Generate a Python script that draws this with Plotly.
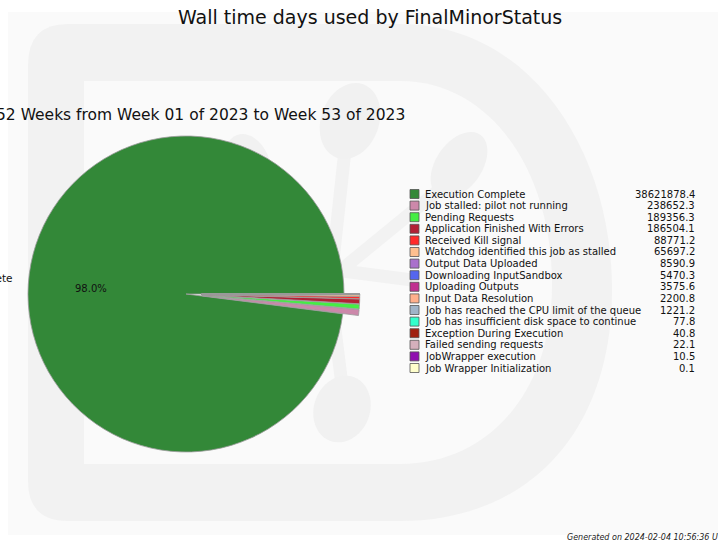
import numpy as np
import plotly.graph_objects as go

W, H = 718, 543

statuses = [
    "Execution Complete",
    "Job stalled: pilot not running",
    "Pending Requests",
    "Application Finished With Errors",
    "Received Kill signal",
    "Watchdog identified this job as stalled",
    "Output Data Uploaded",
    "Downloading InputSandbox",
    "Uploading Outputs",
    "Input Data Resolution",
    "Job has reached the CPU limit of the queue",
    "Job has insufficient disk space to continue",
    "Exception During Execution",
    "Failed sending requests",
    "JobWrapper execution",
    "Job Wrapper Initialization",
]
wall_days = [
    38621878.4, 238652.3, 189356.3, 186504.1, 88771.2, 65697.2, 8590.9,
    5470.3, 3575.6, 2200.8, 1221.2, 77.8, 40.8, 22.1, 10.5, 0.1,
]
colors = [
    "#338838", "#cc88aa", "#44ee44", "#b22035", "#ff2a2a", "#ffc090",
    "#aa70cc", "#5566ee", "#c03090", "#ffb08c", "#a0b4c8", "#33ffcc",
    "#a02010", "#d4b0bc", "#9010b0", "#ffffcc",
]

title = "Wall time days used by FinalMinorStatus"
subtitle = "52 Weeks from Week 01 of 2023 to Week 53 of 2023"
footer = "Generated on 2024-02-04 10:56:36 UTC"


def px(x):
    return x / W


def py(y):
    return 1 - y / H


def path(cmds, close=True):
    parts = []
    for c, pts in cmds:
        parts.append(c + " ".join(f"{px(x):.5f},{py(y):.5f}" for x, y in pts))
    return " ".join(parts) + (" Z" if close else "")


def ellipse_path(cx, cy, a, b, tilt_deg, n=48):
    t = np.linspace(0, 2 * np.pi, n, endpoint=False)
    th = np.radians(tilt_deg)
    xs = cx + a * np.cos(t) * np.cos(th) - b * np.sin(t) * np.sin(th)
    ys = cy + a * np.cos(t) * np.sin(th) + b * np.sin(t) * np.cos(th)
    pts = list(zip(xs, ys))
    return path([("M", [pts[0]])] + [("L", [p]) for p in pts[1:]])


# pie geometry (pixels)
cx, cy, r = 186, 294, 158
pull = 0.1
half = r * (1 + pull)

total = sum(wall_days)
frac0 = wall_days[0] / total
# first slice runs counterclockwise from 3 o'clock
start_rotation = 90 + 360 * (1 - frac0)

fig = go.Figure()
fig.add_trace(go.Pie(
    labels=statuses,
    values=wall_days,
    marker=dict(colors=colors, line=dict(color="#9a9a9a", width=0.8)),
    sort=False,
    direction="counterclockwise",
    rotation=start_rotation,
    pull=[0] + [pull] * (len(wall_days) - 1),
    textinfo="none",
    hoverinfo="label+value+percent",
    showlegend=False,
    domain=dict(x=[px(cx - half), px(cx + half)], y=[py(cy + half), py(cy - half)]),
))

shapes = []
band = "#f2f2f2"
# plot background area
shapes.append(dict(type="rect", xref="paper", yref="paper", x0=px(8), x1=1.0,
                   y0=py(535), y1=py(12), fillcolor="#fafafa", line_width=0, layer="below"))
# watermark logo: rounded "D" outline
outer = path([
    ("M", [(28, 65)]),
    ("Q", [(28, 24), (68, 24)]),
    ("L", [(400, 24)]),
    ("C", [(530, 24), (612, 150), (612, 290)]),
    ("C", [(612, 430), (530, 521), (400, 521)]),
    ("L", [(68, 521)]),
    ("Q", [(28, 521), (28, 481)]),
])
inner = path([
    ("M", [(84, 81)]),
    ("L", [(400, 81)]),
    ("C", [(490, 81), (552, 170), (552, 285)]),
    ("C", [(552, 390), (490, 464), (400, 464)]),
    ("L", [(84, 464)]),
])
shapes.append(dict(type="path", xref="paper", yref="paper", path=outer,
                   fillcolor=band, line_width=0, layer="below"))
shapes.append(dict(type="path", xref="paper", yref="paper", path=inner,
                   fillcolor="#fafafa", line_width=0, layer="below"))
# molecule-like nodes and links
for (x0, y0, x1, y1) in [(345, 150, 332, 270), (445, 185, 335, 275),
                         (335, 270, 412, 280), (330, 290, 342, 385),
                         (255, 180, 330, 275)]:
    shapes.append(dict(type="line", xref="paper", yref="paper",
                       x0=px(x0), y0=py(y0), x1=px(x1), y1=py(y1),
                       line=dict(color=band, width=13), layer="below"))
for (ex, ey, a, b, tilt) in [(350, 121, 29, 39, 20), (459, 165, 23, 37, 35),
                             (342, 409, 28, 34, 20), (248, 165, 22, 32, -20)]:
    shapes.append(dict(type="path", xref="paper", yref="paper",
                       path=ellipse_path(ex, ey, a, b, tilt),
                       fillcolor="#f1f1f1", line_width=0, layer="below"))

annotations = []
font = "DejaVu Sans"
annotations.append(dict(text=title, x=px(370), y=py(17), xref="paper", yref="paper",
                        showarrow=False, xanchor="center", yanchor="middle",
                        font=dict(family=font, size=19, color="#111111")))
annotations.append(dict(text=subtitle, x=px(200), y=py(115), xref="paper", yref="paper",
                        showarrow=False, xanchor="center", yanchor="middle",
                        font=dict(family=font, size=15.5, color="#111111")))
annotations.append(dict(text=f"<i>{footer}</i>", x=px(565), y=py(537), xref="paper", yref="paper",
                        showarrow=False, xanchor="left", yanchor="middle",
                        font=dict(family=font, size=8, color="#222222")))

# percentage and outside label of the dominant slice
mid = np.radians(360 * frac0 / 2)
annotations.append(dict(text=f"{100 * frac0:.1f}%",
                        x=px(cx + 0.6 * r * np.cos(mid)), y=py(cy - 0.6 * r * np.sin(mid)),
                        xref="paper", yref="paper", showarrow=False,
                        xanchor="center", yanchor="middle",
                        font=dict(family=font, size=10, color="#111111")))
annotations.append(dict(text=statuses[0],
                        x=px(14), y=py(cy - 1.07 * r * np.sin(mid) - 5),
                        xref="paper", yref="paper", showarrow=False,
                        xanchor="right", yanchor="middle",
                        font=dict(family=font, size=10.5, color="#111111")))

# legend with right-aligned values
row0, dy = 194, 11.6
for i, (name, val, col) in enumerate(zip(statuses, wall_days, colors)):
    yc = row0 + i * dy
    shapes.append(dict(type="rect", xref="paper", yref="paper",
                       x0=px(410), x1=px(419), y0=py(yc + 4.5), y1=py(yc - 4.5),
                       fillcolor=col, line=dict(color="#555555", width=0.8)))
    annotations.append(dict(text=name, x=px(423), y=py(yc), xref="paper", yref="paper",
                            showarrow=False, xanchor="left", yanchor="middle",
                            font=dict(family=font, size=10, color="#111111")))
    annotations.append(dict(text=f"{val:.1f}", x=px(697), y=py(yc), xref="paper", yref="paper",
                            showarrow=False, xanchor="right", yanchor="middle",
                            font=dict(family=font, size=10, color="#111111")))

fig.update_layout(
    width=W, height=H,
    margin=dict(l=0, r=0, t=0, b=0),
    paper_bgcolor="white",
    plot_bgcolor="white",
    shapes=shapes,
    annotations=annotations,
)

fig.write_html("out.html")
